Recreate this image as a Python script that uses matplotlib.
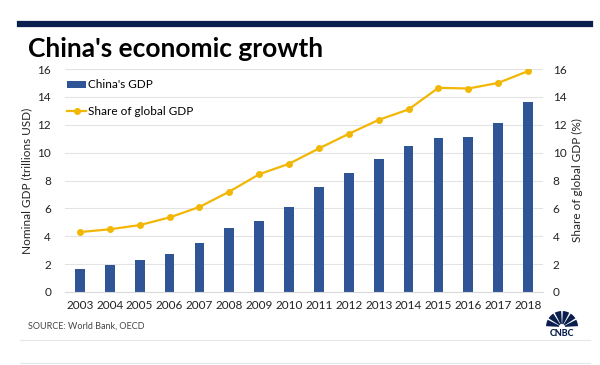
import numpy as np
import matplotlib
matplotlib.use("Agg")
import matplotlib.pyplot as plt
from matplotlib.patches import Wedge
from matplotlib.lines import Line2D

plt.rcParams['font.family'] = ['Lato', 'DejaVu Sans']

years = ['2003', '2004', '2005', '2006', '2007', '2008', '2009', '2010',
         '2011', '2012', '2013', '2014', '2015', '2016', '2017', '2018']
gdp = [1.64, 1.95, 2.29, 2.75, 3.55, 4.59, 5.10, 6.09,
       7.55, 8.53, 9.57, 10.44, 11.06, 11.15, 12.15, 13.61]
share = [4.3, 4.5, 4.8, 5.35, 6.1, 7.2, 8.45, 9.2,
         10.3, 11.35, 12.35, 13.1, 14.65, 14.6, 15.0, 15.85]

bar_color = '#2F5597'
line_color = '#F2B705'
navy = '#0B1F4E'

fig = plt.figure(figsize=(6, 3.65), dpi=100)
fig.patch.set_facecolor('white')

# header rule and title
fig.add_artist(Line2D([20 / 600, 590 / 600], [1 - 24 / 365] * 2, color=navy, lw=4.5))
fig.text(28 / 600, 1 - 57 / 365, "China's economic growth", fontsize=19,
         fontweight='bold', color='black')

ax = fig.add_axes([65 / 600, 1 - 292 / 365, 478 / 600, 223 / 365])
x = np.arange(len(years))
ax.bar(x, gdp, width=0.33, color=bar_color, zorder=2, label="China's GDP")
ax.set_xlim(-0.5, len(years) - 0.5)
ax.set_ylim(0, 16)
ax.set_yticks(range(0, 17, 2))
ax.grid(axis='y', color='#E3E3E3', lw=0.8, zorder=0)
ax.set_xticks(x)
ax.set_xticklabels(years)
for s in ax.spines.values():
    s.set_visible(False)
ax.spines['bottom'].set_visible(True)
ax.spines['bottom'].set_color('#D9D9D9')
ax.tick_params(length=0, labelsize=8.5, colors='#222222')
ax.tick_params(axis='y', pad=10)
ax.tick_params(axis='x', pad=6)
ax.set_ylabel('Nominal GDP (trillions USD)', fontsize=8.5, color='#222222', labelpad=4)

ax2 = ax.twinx()
ax2.plot(x, share, color=line_color, lw=1.6, marker='o', ms=4, zorder=3,
         label='Share of global GDP')
ax2.set_ylim(0, 16)
ax2.set_yticks(range(0, 17, 2))
for s in ax2.spines.values():
    s.set_visible(False)
ax2.tick_params(length=0, labelsize=8.5, colors='#222222', pad=7)
ax2.set_ylabel('Share of global GDP (%)', fontsize=8.5, color='#222222', labelpad=4)

h1, l1 = ax.get_legend_handles_labels()
h2, l2 = ax2.get_legend_handles_labels()
leg = ax2.legend(h1 + h2, l1 + l2, loc='upper left', bbox_to_anchor=(-0.01, 0.985),
                 frameon=False, fontsize=8.5, handlelength=1.6, handleheight=0.6,
                 handletextpad=0.15, labelspacing=1.3, borderaxespad=0.2)

# footer
fig.text(28 / 600, 1 - 329 / 365, 'SOURCE: World Bank, OECD', fontsize=6.5, color='#444444')
fig.add_artist(Line2D([20 / 600, 590 / 600], [1 - 340 / 365] * 2, color='#E6E6E6', lw=0.8))
fig.add_artist(Line2D([20 / 600, 590 / 600], [1 - 363 / 365] * 2, color='#E6E6E6', lw=0.8))

# simple CNBC peacock mark
lax = fig.add_axes([546 / 600, 1 - 338 / 365, 32 / 600, 30 / 365])
lax.set_xlim(0, 32)
lax.set_ylim(0, 30)
lax.axis('off')
cx, cy = 16, 11
for i in range(6):
    a0 = 180 - i * 30
    lax.add_patch(Wedge((cx, cy), 16, a0 - 27, a0 - 3, color=navy, lw=0))
lax.add_patch(Wedge((cx, cy), 3, 0, 180, color='white', lw=0))
lax.text(cx, 4, 'CNBC', ha='center', va='center', fontsize=6.5, fontweight='black',
         color=navy)

fig.savefig('out.png', dpi=100, facecolor='white')
